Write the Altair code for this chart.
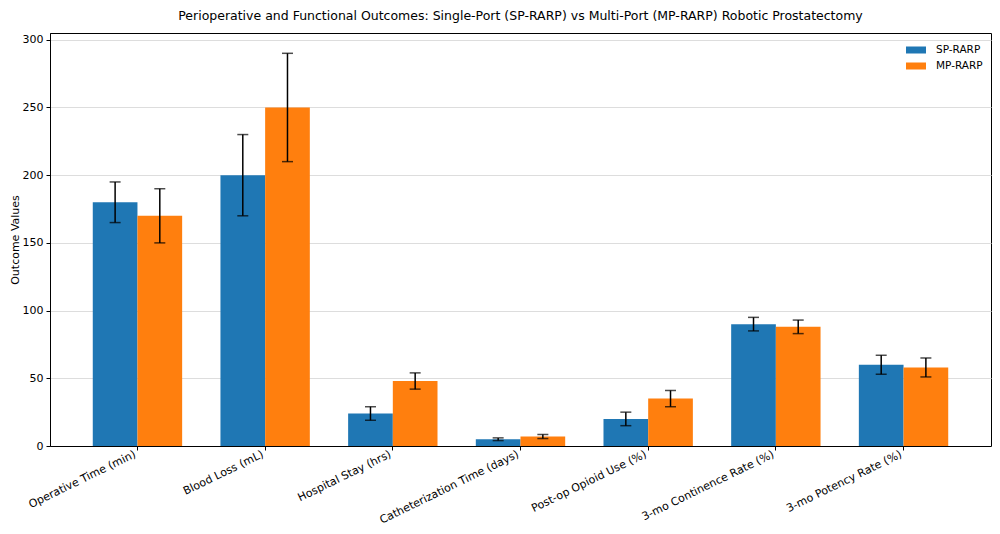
import altair as alt
import pandas as pd

categories = ["Operative Time (min)", "Blood Loss (mL)", "Hospital Stay (hrs)",
              "Catheterization Time (days)", "Post-op Opioid Use (%)",
              "3-mo Continence Rate (%)", "3-mo Potency Rate (%)"]
sp_values = [180, 200, 24, 5, 20, 90, 60]
sp_errors = [15, 30, 5, 1, 5, 5, 7]
mp_values = [170, 250, 48, 7, 35, 88, 58]
mp_errors = [20, 40, 6, 1.5, 6, 5, 7]
series = ["SP-RARP", "MP-RARP"]
colors = ["#1f77b4", "#ff7f0e"]

rows = []
for i, c in enumerate(categories):
    rows.append({"cat": c, "grp": series[0], "v": sp_values[i],
                 "lo": sp_values[i] - sp_errors[i], "hi": sp_values[i] + sp_errors[i]})
    rows.append({"cat": c, "grp": series[1], "v": mp_values[i],
                 "lo": mp_values[i] - mp_errors[i], "hi": mp_values[i] + mp_errors[i]})
df = pd.DataFrame(rows)

font = "DejaVu Sans"
xenc = alt.X("cat:N", sort=categories, title=None,
             scale=alt.Scale(paddingInner=0.3, paddingOuter=0.335),
             axis=alt.Axis(labelAngle=-26, labelAlign="right", labelBaseline="bottom",
                           labelFontSize=11, labelColor="black", tickColor="black",
                           domainColor="black", labelPadding=8, tickSize=4, grid=False))
xoff = alt.XOffset("grp:N", sort=series, scale=alt.Scale(paddingInner=0, paddingOuter=0))
yscale = alt.Scale(domain=[0, 305], nice=False)

base = alt.Chart(df)
bars = base.mark_bar().encode(
    x=xenc, xOffset=xoff,
    y=alt.Y("v:Q", scale=yscale, title="Outcome Values",
            axis=alt.Axis(values=[0, 50, 100, 150, 200, 250, 300], labelFontSize=11,
                          titleFontSize=11, titleFontWeight="normal", labelColor="black",
                          titleColor="black", tickColor="black", domainColor="black",
                          gridColor="#dddddd", tickSize=4, labelPadding=3, titlePadding=2)),
    color=alt.Color("grp:N", sort=series, scale=alt.Scale(domain=series, range=colors),
                    legend=alt.Legend(title=None, orient="none", legendX=852, legendY=3,
                                      symbolType="M-1,-0.35L1,-0.35L1,0.35L-1,0.35Z",
                                      symbolSize=400, symbolStrokeWidth=0,
                                      labelFontSize=10.5, labelColor="black",
                                      padding=4, rowPadding=0, labelOffset=10)),
)
rules = base.mark_rule(color="black", strokeWidth=1.5).encode(
    x=xenc, xOffset=xoff, y=alt.Y("lo:Q", scale=yscale), y2="hi:Q")
caps_lo = base.mark_tick(color="black", size=11, thickness=1.5).encode(
    x=xenc, xOffset=xoff, y=alt.Y("lo:Q", scale=yscale))
caps_hi = base.mark_tick(color="black", size=11, thickness=1.5).encode(
    x=xenc, xOffset=xoff, y=alt.Y("hi:Q", scale=yscale))

chart = alt.layer(bars, rules, caps_lo, caps_hi).properties(
    width=941, height=413,
    autosize=alt.AutoSizeParams(type="none"),
    padding={"left": 42, "top": 25, "right": 1, "bottom": 80},
    title=alt.TitleParams("Perioperative and Functional Outcomes: Single-Port (SP-RARP) vs Multi-Port (MP-RARP) Robotic Prostatectomy",
                          fontSize=12.5, fontWeight="normal", color="black", offset=11),
).configure(font=font).configure_view(stroke="black", strokeWidth=1).configure_axisY(
    grid=True
).configure_axisX(grid=False)

chart.save("out.html", embed_options={"renderer": "svg", "actions": False})
